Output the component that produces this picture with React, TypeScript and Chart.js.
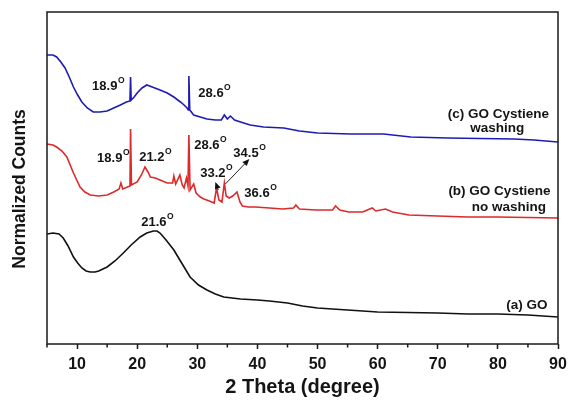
import React, { useEffect, useRef } from "react";
import { Chart, registerables } from "chart.js";

Chart.register(...registerables);

// 2θ (degree) vs normalized counts (arbitrary units)
const goData: [number, number][] = [
  [5.0, 110], [6.0, 111], [7.0, 110], [7.7, 106], [8.5, 98], [9.4, 87], [10.1, 81],
  [10.8, 76], [11.5, 73], [12.2, 72], [13.0, 72], [13.6, 73], [14.3, 75], [15.0, 77],
  [16.3, 83], [17.7, 91], [19.0, 99], [20.5, 107], [21.6, 111], [22.7, 113], [23.3, 113],
  [23.8, 111], [24.8, 104], [26.1, 94], [27.4, 81], [28.8, 67], [30.2, 59], [31.6, 54],
  [33.0, 50], [34.4, 47], [37.2, 45], [40, 44], [42, 43], [45, 41], [47.5, 38], [50, 36],
  [55, 34], [60, 32], [65, 31.5], [70, 31], [75, 30], [80, 30], [85, 29], [90, 27],
];

const noWashData: [number, number][] = [
  [5.0, 200], [6.0, 199], [6.6, 197], [7.5, 193], [8.3, 187], [9.4, 171], [10.5, 157],
  [11.3, 152], [12.2, 149], [13.6, 148], [15.0, 149], [16.1, 152], [17.0, 155], [17.3, 161],
  [17.6, 155], [18.4, 157], [18.8, 158], [18.9, 215], [19.05, 159], [20.0, 162], [20.7, 169],
  [21.3, 177], [21.8, 172], [22.2, 167], [23.0, 166], [23.8, 164], [25.0, 161], [25.9, 161],
  [26.1, 168], [26.4, 160], [27.1, 169], [27.5, 159], [27.8, 156], [28.2, 166], [28.45, 158],
  [28.6, 209], [28.8, 154], [29.4, 160], [29.8, 151], [30.5, 147], [31.1, 145], [32.0, 143],
  [32.8, 141], [33.2, 156], [33.6, 144], [34.1, 142], [34.5, 161], [34.8, 148], [35.3, 146],
  [35.9, 148], [36.6, 152], [37.1, 142], [37.5, 138], [38.5, 137], [39.7, 137], [42.0, 136],
  [44.2, 135], [46.0, 136], [46.4, 139], [47.0, 135], [49.7, 134], [52.5, 134], [53.0, 138],
  [53.7, 134], [55.2, 132], [57.5, 132], [59.1, 136], [59.7, 133], [61.3, 135], [62.5, 132],
  [65.2, 129], [70, 128], [75, 127], [80, 127], [85, 126.5], [90, 126],
];

const washData: [number, number][] = [
  [5.0, 289], [6.0, 289], [6.6, 287], [7.3, 282], [8.0, 276], [8.7, 267], [9.4, 257],
  [10.1, 249], [10.8, 242], [11.7, 236], [12.7, 232], [13.8, 232], [15.0, 233], [16.1, 236],
  [17.2, 239], [18.2, 242], [18.8, 243], [18.9, 267], [19.0, 244], [19.5, 247], [20.0, 251],
  [20.8, 256], [21.6, 259], [22.5, 257], [23.8, 254], [25.0, 251], [26.1, 247], [27.2, 242],
  [27.8, 239], [28.3, 236], [28.5, 234], [28.6, 268], [28.75, 234], [29.4, 229], [30.5, 227],
  [31.6, 225], [33.0, 224], [34.0, 224], [34.5, 229], [35.0, 225], [35.5, 228], [36.2, 224],
  [37.2, 222], [38.8, 219], [41.0, 217], [44.4, 216], [47.0, 213], [50.0, 211], [55.5, 210],
  [61.0, 210], [65.5, 207], [71.7, 206], [77, 205.5], [82.7, 205], [86, 204], [90, 202],
];

const majorTicks = [10, 20, 30, 40, 50, 60, 70, 80, 90];
const minorTicks = [5, 15, 25, 35, 45, 55, 65, 75, 85];

const yTitle = "Normalized Counts";

const peakLabels = [
  { text: "18.9", x: 12.5, y: 258 },
  { text: "28.6", x: 30.17, y: 251 },
  { text: "18.9", x: 13.33, y: 186 },
  { text: "21.2", x: 20.33, y: 187 },
  { text: "28.6", x: 29.5, y: 199 },
  { text: "34.5", x: 36.0, y: 191 },
  { text: "33.2", x: 30.5, y: 171 },
  { text: "36.6", x: 37.83, y: 151 },
  { text: "21.6", x: 20.67, y: 122 },
];

const seriesLabels = [
  { text: "(c) GO Cystiene", x: 80.08, y: 230 },
  { text: "washing", x: 79.9, y: 216 },
  { text: "(b) GO Cystiene", x: 80.25, y: 153 },
  { text: "no washing", x: 81.83, y: 137 },
  { text: "(a) GO", x: 84.83, y: 39 },
];

const arrows = [
  { x1: 33.5, y1: 154, x2: 33.0, y2: 162 },
  { x1: 34.67, y1: 160, x2: 38.67, y2: 185 },
];

const FONT = '"Liberation Sans", Arial, Helvetica, sans-serif';

const overlayPlugin = {
  id: "overlay",
  afterDatasetsDraw(chart: any) {
    const { ctx, chartArea: a, scales } = chart;
    const xs = scales.x;
    const ys = scales.y;
    ctx.save();
    ctx.strokeStyle = "#1a1a1a";
    ctx.lineWidth = 1.5;
    ctx.strokeRect(a.left, a.top, a.right - a.left, a.bottom - a.top);
    minorTicks.forEach((v) => {
      const px = xs.getPixelForValue(v);
      ctx.beginPath();
      ctx.moveTo(px, a.bottom);
      ctx.lineTo(px, a.bottom + 3.5);
      ctx.stroke();
    });

    // y-axis title (rotated)
    ctx.save();
    ctx.translate(20, a.top + (a.bottom - a.top) * 0.533);
    ctx.rotate(-Math.PI / 2);
    ctx.fillStyle = "#141414";
    ctx.textAlign = "center";
    ctx.textBaseline = "middle";
    ctx.font = `bold 17.5px ${FONT}`;
    ctx.fillText(yTitle, 0, 0);
    ctx.restore();

    ctx.fillStyle = "#141414";
    ctx.textBaseline = "middle";
    ctx.textAlign = "left";
    peakLabels.forEach((l) => {
      const px = xs.getPixelForValue(l.x);
      const py = ys.getPixelForValue(l.y);
      ctx.font = `bold 13px ${FONT}`;
      ctx.fillText(l.text, px, py);
      const w = ctx.measureText(l.text).width;
      ctx.font = `bold 8.5px ${FONT}`;
      ctx.fillText("O", px + w + 0.5, py - 5);
    });

    ctx.textAlign = "center";
    ctx.font = `bold 13.5px ${FONT}`;
    seriesLabels.forEach((l) => {
      ctx.fillText(l.text, xs.getPixelForValue(l.x), ys.getPixelForValue(l.y));
    });

    ctx.strokeStyle = "#222";
    ctx.fillStyle = "#111";
    ctx.lineWidth = 1;
    arrows.forEach((ar) => {
      const x1 = xs.getPixelForValue(ar.x1);
      const y1 = ys.getPixelForValue(ar.y1);
      const x2 = xs.getPixelForValue(ar.x2);
      const y2 = ys.getPixelForValue(ar.y2);
      const ang = Math.atan2(y2 - y1, x2 - x1);
      const hl = 7;
      const hw = 3;
      const bx = x2 - hl * Math.cos(ang);
      const by = y2 - hl * Math.sin(ang);
      ctx.beginPath();
      ctx.moveTo(x1, y1);
      ctx.lineTo(bx, by);
      ctx.stroke();
      ctx.beginPath();
      ctx.moveTo(x2, y2);
      ctx.lineTo(bx + hw * Math.sin(ang), by - hw * Math.cos(ang));
      ctx.lineTo(bx - hw * Math.sin(ang), by + hw * Math.cos(ang));
      ctx.closePath();
      ctx.fill();
    });
    ctx.restore();
  },
};

const toPoints = (arr: [number, number][]) => arr.map(([x, y]) => ({ x, y }));

export default function App() {
  const ref = useRef<HTMLCanvasElement | null>(null);
  useEffect(() => {
    if (!ref.current) return;
    const chart = new Chart(ref.current, {
      type: "line",
      data: {
        datasets: [
          { label: "(a) GO", data: toPoints(goData), borderColor: "#111111", borderWidth: 1.6 },
          { label: "(b) GO Cystiene no washing", data: toPoints(noWashData), borderColor: "#dd2a2a", borderWidth: 1.6 },
          { label: "(c) GO Cystiene washing", data: toPoints(washData), borderColor: "#1c1cb4", borderWidth: 1.6 },
        ],
      },
      options: {
        animation: false,
        responsive: false,
        layout: { padding: { top: 12, right: 10, left: 0, bottom: 0 } },
        elements: { point: { radius: 0 }, line: { tension: 0 } },
        plugins: { legend: { display: false }, tooltip: { enabled: false } },
        scales: {
          x: {
            type: "linear",
            min: 5,
            max: 90,
            afterBuildTicks: (s: any) => {
              s.ticks = majorTicks.map((v) => ({ value: v }));
            },
            afterFit: (s: any) => {
              s.height = 57;
              s.paddingLeft = 0;
              s.paddingRight = 0;
            },
            ticks: {
              autoSkip: false,
              maxRotation: 0,
              padding: 6,
              color: "#141414",
              font: { family: FONT, size: 16, weight: "bold" },
            },
            grid: {
              drawOnChartArea: false,
              drawTicks: true,
              tickLength: 5,
              tickColor: "#1a1a1a",
              tickWidth: 1.5,
            },
            border: { display: false },
            title: {
              display: true,
              text: "2 Theta (degree)",
              color: "#141414",
              font: { family: FONT, size: 20, weight: "bold" },
              padding: { top: 0, bottom: 2 },
            },
          },
          y: {
            type: "linear",
            min: 0,
            max: 332,
            afterFit: (s: any) => {
              s.width = 47;
              s.paddingTop = 0;
              s.paddingBottom = 0;
            },
            ticks: { display: false },
            grid: { display: false },
            border: { display: false },
            title: { display: false },
          },
        },
      },
      plugins: [overlayPlugin],
    } as any);
    return () => chart.destroy();
  }, []);
  return (
    <div style={{ position: "absolute", left: 0, top: 0, width: 568, height: 401, background: "#fff" }}>
      <canvas ref={ref} width={568} height={401} style={{ display: "block" }} />
    </div>
  );
}
